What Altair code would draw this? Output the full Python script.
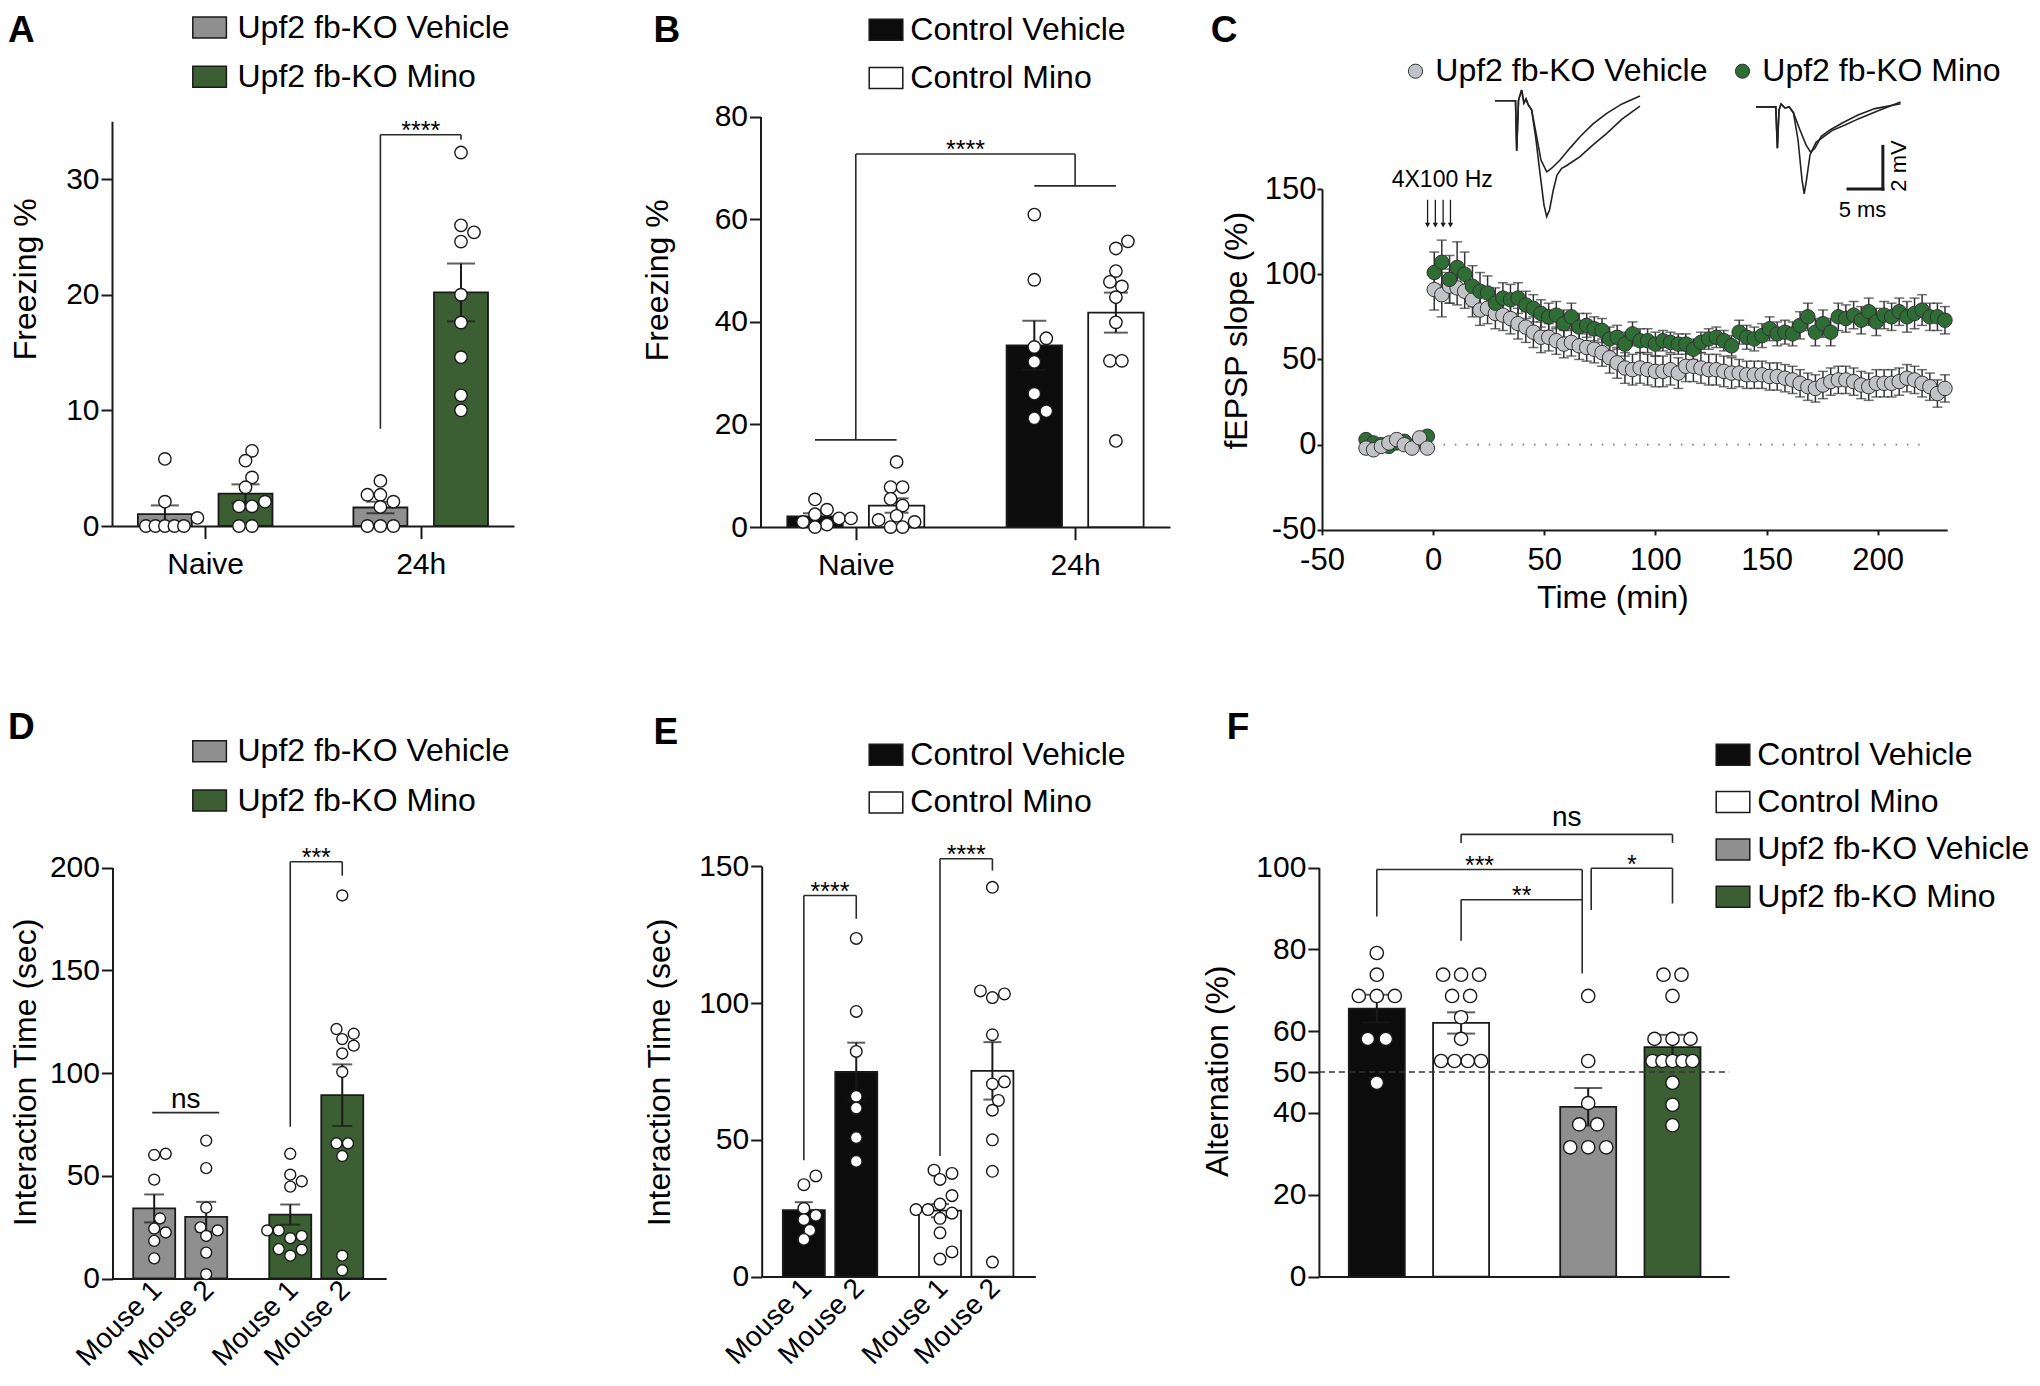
import json
import altair as alt
import pandas as pd

FONT = "Liberation Sans"
INK = "#1a1a1a"
BRK = "#2a2a2a"
GRAY = "#8f8f8f"
GREEN = "#3b5e33"
BLACK = "#0c0c0c"
WHITE = "#ffffff"
C_GRAY = "#c2c3c7"
C_GREEN = "#2e6d34"

# ---------------- data ----------------
# Panel A  (bar order: Naive-Vehicle, Naive-Mino, 24h-Vehicle, 24h-Mino)
A_x = ["Naive", "24h"]
A_series = ["Upf2 fb-KO Vehicle", "Upf2 fb-KO Mino"]
A_mean = [1.03, 2.8, 1.6, 20.2]
A_sem = [0.75, 0.8, 0.5, 2.5]
A_pts = [
    [5.8, 2.1, 0.7, 0, 0, 0, 0, 0],
    [6.5, 5.65, 4.2, 3.35, 2.1, 1.7, 1.7, 0, 0],
    [3.9, 2.7, 2.7, 2.1, 1.65, 0, 0, 0],
    [32.3, 26.0, 25.4, 24.6, 20.0, 17.6, 14.6, 11.3, 10.0],
]
# Panel B
B_x = ["Naive", "24h"]
B_series = ["Control Vehicle", "Control Mino"]
B_mean = [2.1, 4.2, 35.4, 41.8]
B_sem = [0.6, 1.4, 4.8, 3.9]
B_pts = [
    [5.4, 3.4, 2.5, 1.7, 1.7, 1.0, 0.5, 0.0],
    [12.7, 7.8, 7.8, 5.5, 4.2, 2.2, 1.4, 1.0, 0.0, 0.0],
    [60.9, 48.2, 36.8, 35.1, 32.2, 26.0, 22.6, 21.2],
    [55.7, 54.3, 49.9, 47.8, 46.9, 44.8, 39.9, 32.4, 32.4, 16.8],
]
# Panel C  (fEPSP slope time course)
C_series = ["Upf2 fb-KO Vehicle", "Upf2 fb-KO Mino"]
C_base_t = [-30.2, -26.8, -23.3, -19.9, -16.4, -13.0, -9.5, -6.1, -2.6]
C_base_veh = [-2.0, -3.0, -1.0, 1.0, 3.0, 0.0, -2.0, 4.0, -2.0]
C_base_mino = [3.0, 1.0, 0.0, -1.0, 1.0, 2.0, -1.0, 2.0, 5.0]
C_base_sem = [1.5, 1.5, 1.5, 1.5, 1.5, 1.5, 1.5, 1.5, 1.5]
C_post_t = [0.5, 3.9, 7.4, 10.8, 14.2, 17.7, 21.1, 24.5, 28.0, 31.4,
            34.8, 38.2, 41.7, 45.1, 48.5, 52.0, 55.4, 58.8, 62.2, 65.7,
            69.1, 72.5, 76.0, 79.4, 82.8, 86.3, 89.7, 93.1, 96.5, 100.0,
            103.4, 106.8, 110.3, 113.7, 117.1, 120.5, 124.0, 127.4, 130.8, 134.3,
            137.7, 141.1, 144.5, 148.0, 151.4, 154.8, 158.3, 161.7, 165.1, 168.6,
            172.0, 175.4, 178.9, 182.3, 185.7, 189.2, 192.6, 196.0, 199.4, 202.9,
            206.3, 209.7, 213.2, 216.6, 220.0, 223.5, 226.9, 230.3]
C_post_mino = [101, 107, 97, 104, 100, 93, 90, 89, 83, 86,
               85, 86, 82, 80, 77, 75, 76, 71, 75, 69,
               70, 68, 67, 62, 63, 59, 65, 61, 61, 59,
               61, 60, 59, 59, 56, 60, 62, 63, 61, 58,
               66, 63, 62, 64, 68, 65, 66, 65, 70, 75,
               66, 71, 66, 75, 74, 76, 73, 78, 72, 76,
               75, 78, 75, 77, 79, 75, 75, 73]
C_post_veh = [91, 88, 93, 92, 90, 85, 79, 80, 77, 76,
              74, 71, 69, 66, 63, 63, 61, 59, 60, 58,
              57, 56, 54, 51, 48, 45, 44, 45, 44, 43,
              43, 44, 42, 46, 46, 45, 44, 44, 43, 42,
              42, 41, 41, 41, 40, 40, 39, 38, 36, 34,
              33, 35, 37, 38, 38, 37, 35, 34, 36, 36,
              36, 37, 39, 38, 36, 34, 30, 33]
C_sem_mino = [12, 13, 14, 15, 13, 12, 11, 10, 9, 9,
              9, 9, 8, 8, 8, 8, 8, 8, 8, 8,
              7, 7, 7, 7, 7, 7, 7, 7, 7, 7,
              6, 6, 6, 6, 6, 6, 6, 6, 6, 6,
              7, 7, 7, 7, 7, 7, 7, 7, 8, 8,
              8, 8, 8, 8, 8, 8, 8, 8, 8, 8,
              8, 8, 9, 9, 9, 8, 8, 8]
C_sem_veh = [12, 13, 10, 10, 10, 10, 9, 9, 9, 9,
             9, 9, 9, 9, 9, 8, 8, 8, 8, 8,
             8, 8, 8, 9, 9, 9, 9, 9, 9, 9,
             9, 9, 9, 9, 9, 9, 9, 9, 9, 9,
             8, 8, 8, 8, 8, 8, 8, 8, 8, 8,
             8, 8, 8, 8, 8, 8, 8, 8, 8, 8,
             8, 8, 8, 8, 8, 8, 8, 8]
C_arrow_t = [-2.5, 1.0, 4.5, 7.8]
# inset example traces (ms, mV)
T1s_ms = [0, 2.93, 3.1, 3.36, 3.81, 4.14, 4.43, 4.76, 5.24, 5.96, 6.57, 7.39, 8.14, 9.29, 10.71, 12.14, 14.0, 15.96, 18.14, 20.71]
T1s_mv = [0, 0, -2.34, 0.03, 0.5, -0.11, 0.08, -0.2, -0.44, -1.69, -2.78, -3.33, -3.15, -2.78, -2.22, -1.69, -1.09, -0.59, -0.15, 0.22]
T1l_ms = [0, 2.93, 3.1, 3.36, 3.81, 4.14, 4.43, 4.76, 5.24, 5.86, 6.43, 7.0, 7.39, 7.79, 8.33, 8.86, 9.53, 10.14, 11.0, 12.14, 14.0, 15.96, 18.14, 20.71]
T1l_mv = [0, 0, -2.34, 0.03, 0.5, -0.11, 0.08, -0.2, -0.44, -1.84, -3.4, -4.89, -5.43, -5.12, -4.18, -3.48, -3.17, -3.06, -2.87, -2.62, -2.07, -1.53, -0.86, -0.25]
T2s_ms = [37.29, 40.11, 40.34, 40.57, 40.87, 41.43, 42.03, 42.63, 43.57, 44.43, 45.09, 45.71, 46.61, 47.86, 49.67, 51.86, 54.27, 57.94]
T2s_mv = [-0.29, -0.29, -2.23, -0.44, -0.15, -0.34, -0.29, -0.56, -1.37, -2.07, -2.41, -2.22, -1.67, -1.37, -1.03, -0.67, -0.37, -0.14]
T2l_ms = [37.29, 40.11, 40.34, 40.57, 40.87, 41.43, 42.03, 42.63, 43.29, 43.86, 44.17, 44.5, 45.0, 45.86, 48.14, 50.0, 51.97, 55.0, 57.94]
T2l_mv = [-0.29, -0.29, -2.23, -0.44, -0.15, -0.34, -0.29, -0.56, -1.84, -3.71, -4.36, -3.71, -2.54, -1.95, -1.4, -1.14, -0.84, -0.44, -0.06]

# Panel D (bar order: Veh-M1, Veh-M2, Mino-M1, Mino-M2)
D_series = ["Upf2 fb-KO Vehicle", "Upf2 fb-KO Mino"]
D_x = ["Mouse 1", "Mouse 2"]
D_mean = [34.1, 30.0, 31.1, 89.2]
D_sem = [6.8, 7.3, 4.9, 15.0]
D_pts = [
    [60.7, 60.1, 48.1, 29.2, 24.3, 22.4, 18.3, 9.8],
    [67.1, 53.7, 34.5, 24.9, 23.4, 20.7, 12.6, 2.1],
    [60.7, 50.5, 47.3, 44.7, 23.4, 23.4, 20.7, 19.6, 14.3, 14.0, 11.1],
    [186.4, 121.4, 119.1, 116.5, 113.3, 109.5, 100.5, 65.8, 65.8, 59.6, 11.1, 4.0],
]
# Panel E
E_series = ["Control Vehicle", "Control Mino"]
E_x = ["Mouse 1", "Mouse 2"]
E_mean = [24.3, 74.8, 24.1, 75.2]
E_sem = [2.9, 10.7, 2.4, 10.5]
E_pts = [
    [36.8, 33.6, 24.9, 22.4, 20.8, 16.9, 13.6],
    [123.6, 96.9, 82.3, 65.9, 61.6, 50.8, 42.1],
    [38.9, 37.7, 35.5, 29.6, 26.5, 24.5, 24.5, 23.2, 21.3, 16.0, 9.0, 6.4],
    [142.3, 104.4, 103.3, 102.0, 88.4, 71.2, 70.4, 64.4, 60.8, 50.0, 38.5, 5.3],
]
# Panel F
F_series = ["Control Vehicle", "Control Mino", "Upf2 fb-KO Vehicle", "Upf2 fb-KO Mino"]
F_mean = [65.5, 62.0, 41.5, 56.1]
F_sem = [3.4, 2.6, 4.6, 3.0]
F_pts = [
    [79.1, 73.8, 68.6, 68.6, 68.6, 58.1, 58.1, 47.4],
    [73.8, 73.8, 73.8, 68.6, 68.6, 63.4, 58.1, 52.7, 52.7, 52.7, 52.7],
    [68.6, 52.7, 42.4, 37.2, 37.2, 31.6, 31.6, 31.6],
    [73.8, 73.8, 68.6, 58.1, 58.1, 58.1, 52.7, 52.7, 52.7, 52.7, 52.7, 47.4, 42.0, 37.0],
]

# ---------------- figure canvas (pixels, origin = page offset 8,8) ----------------
FIG_W, FIG_H = 2024, 1366
RECT = "M-1.6,-1L1.6,-1L1.6,1L-1.6,1Z"


def swarm(vals, ypx, d, maxw):
    n = len(vals)
    order = sorted(range(n), key=lambda i: vals[i])
    rows = []
    for i in order:
        if rows and abs(vals[rows[-1][0]] - vals[i]) < 1e-9:
            rows[-1].append(i)
        else:
            rows.append([i])
    out = [0.0] * n
    placed = []
    for row in rows:
        m = len(row)
        sp = d if m == 1 else min(d, maxw / (m - 1))
        base = [(j - (m - 1) / 2) * sp for j in range(m)]
        y = vals[row[0]] * ypx
        chosen = 0.0
        for k in [0, 1, -1, 2, -2, 3, -3, 4, -4, 5, -5]:
            c = k * d * 0.5
            if all((c + b - px) ** 2 + (y - py) ** 2 >= (0.9 * d) ** 2
                   for b in base for px, py in placed):
                chosen = c
                break
        for j, i in enumerate(row):
            out[i] = chosen + base[j]
            placed.append((chosen + base[j], y))
    return out


def letter(ch, x, y):
    return alt.Chart(pd.DataFrame({"k": [0]})).mark_text(
        text=ch, align="left", baseline="top", font=FONT, fontSize=37,
        fontWeight="bold", color="black").encode(x=alt.value(x), y=alt.value(y))


def common_axis():
    return dict(domainColor=INK, domainWidth=2, tickColor=INK, tickWidth=2,
                labelFont=FONT, labelColor="black", grid=False,
                labelFlush=False, labelOverlap=False)


def bar_panel(P):
    lay = P["lay"]
    step = lay["step"]
    ax0 = lay["ax"]
    lo = -lay["first"] / step
    hi = (lay["axis_len"] - lay["first"]) / step
    xs = alt.Scale(domain=[lo, hi], range=[ax0, ax0 + lay["axis_len"]], nice=False, zero=False)
    ys = alt.Scale(domain=P["ydom"], range=P["yrange"], nice=False, zero=False)
    ypx = (P["yrange"][0] - P["yrange"][1]) / (P["ydom"][1] - P["ydom"][0])
    ns = P["ns"]
    off_u = lay["off"] / step
    bw_u = lay["bw"] / step
    centers, bars, pts = [], [], []
    for i, (m, se, vals) in enumerate(zip(P["mean"], P["sem"], P["pts"])):
        g, s = divmod(i, ns)
        c = g + (2 * s - (ns - 1)) * off_u
        centers.append(c)
        bars.append({"c": c, "x": c - bw_u / 2, "x2": c + bw_u / 2, "m": m, "zero": 0.0,
                     "lo": m - se, "hi": m + se, "grp": P["fills"][i]})
        offs = swarm(vals, ypx, P["dot_d"], P["dot_w"])
        pts += [{"x": c + o / step, "v": v} for v, o in zip(vals, offs)]

    xoff = P["yrange"][0] - FIG_H
    mode = P["xmode"]
    names = json.dumps(P.get("xlabels", []))
    if mode == "group":
        xax = alt.Axis(orient="bottom", values=list(range(len(P["xlabels"]))),
                       labelExpr=f"{names}[round(datum.value)]", tickSize=12.6,
                       labelFontSize=30, labelPadding=10.8, labelAngle=0,
                       offset=xoff, title=None, **common_axis())
    elif mode == "bar":
        xax = alt.Axis(orient="bottom", values=centers,
                       labelExpr=f"{names}[datum.value - floor(datum.value + 0.5) < 0 ? 0 : 1]",
                       ticks=False, tickSize=0, labelFontSize=28, labelAngle=315,
                       labelAlign="right", labelBaseline="middle", labelPadding=7,
                       labelOffset=3, offset=xoff, title=None, **common_axis())
    else:
        xax = alt.Axis(orient="bottom", labels=False, ticks=False, offset=xoff, title=None,
                       **common_axis())
    yax = alt.Axis(orient="left", values=P["yticks"], format="d", tickSize=11, labelFontSize=30,
                   labelPadding=2, offset=-ax0, title=P["ytitle"], titleFont=FONT,
                   titleFontSize=32, titleFontWeight="normal", titleColor="black",
                   titleAngle=270, titleAlign="center", titleBaseline="bottom",
                   titleX=P["titleX"], titleY=P["titleY"], **common_axis())

    def X(f):
        return alt.X(f"{f}:Q", scale=xs, axis=xax)

    def Y(f):
        return alt.Y(f"{f}:Q", scale=ys, axis=yax)

    legend = alt.Legend(orient="none", legendX=P["lgX"], legendY=P["lgY"], direction="vertical",
                        title=None, symbolType=RECT, symbolSize=441, symbolStrokeColor=INK,
                        symbolStrokeWidth=1.5, symbolOpacity=1, labelFont=FONT, labelFontSize=32,
                        labelColor="black", labelOffset=P["lgOff"], rowPadding=P["lgRow"],
                        padding=0, labelLimit=600)
    bdf = pd.DataFrame(bars)
    layers = [
        alt.Chart(bdf).mark_bar(stroke=INK, strokeWidth=1.8).encode(
            x=X("x"), x2=alt.X2("x2"), y=Y("m"), y2=alt.Y2("zero"),
            fill=alt.Fill("grp:N", scale=alt.Scale(domain=P["legend_names"], range=P["colors"]),
                          legend=legend))
    ]
    if P.get("dash50"):
        ddf = pd.DataFrame([{"x1": lo, "x2": hi, "y": P["dash50"]}])
        layers.append(alt.Chart(ddf).mark_rule(strokeDash=[6, 4], color="#333", strokeWidth=1.6)
                      .encode(x=X("x1"), x2=alt.X2("x2"), y=Y("y")))
    layers += [
        alt.Chart(bdf).mark_rule(color=INK, strokeWidth=2).encode(x=X("c"), y=Y("lo"), y2=alt.Y2("hi")),
        alt.Chart(bdf).mark_tick(orient="horizontal", size=P["cap"], thickness=2, color=INK)
        .encode(x=X("c"), y=Y("hi")),
        alt.Chart(bdf).mark_tick(orient="horizontal", size=P["cap"], thickness=2, color=INK)
        .encode(x=X("c"), y=Y("lo")),
        alt.Chart(pd.DataFrame(pts)).mark_point(shape="circle", filled=True, fill="white", stroke=INK,
                                                strokeWidth=1.4, size=P["dot_size"], opacity=1)
        .encode(x=X("x"), y=Y("v")),
    ]
    segs, stars, nss = P["brackets"](centers, 1.0 / step)
    sdf = pd.DataFrame([{"x1": a, "y1": b, "x2": c, "y2": d} for a, b, c, d in segs])
    layers.append(alt.Chart(sdf).mark_rule(color=BRK, strokeWidth=1.6)
                  .encode(x=X("x1"), x2=alt.X2("x2"), y=Y("y1"), y2=alt.Y2("y2")))
    if stars:
        tdf = pd.DataFrame([{"x": a, "y": b, "t": t} for a, b, t in stars])
        layers.append(alt.Chart(tdf).mark_text(font=FONT, fontSize=25, baseline="alphabetic",
                                               align="center", dy=4.4, color="black")
                      .encode(x=X("x"), y=Y("y"), text="t:N"))
    if nss:
        ndf = pd.DataFrame([{"x": a, "y": b, "t": t} for a, b, t in nss])
        layers.append(alt.Chart(ndf).mark_text(font=FONT, fontSize=28, baseline="alphabetic",
                                               align="center", dy=P["ns_dy"], color="black")
                      .encode(x=X("x"), y=Y("y"), text="t:N"))
    layers.append(letter(P["letter"], P["letX"], P["letY"]))
    return alt.layer(*layers)


def c_panel():
    xs = alt.Scale(domain=[-50, 231.3], range=[1314, 1939.2], nice=False, zero=False)
    ys = alt.Scale(domain=[-50, 150], range=[521.9, 181], nice=False, zero=False)
    xax = alt.Axis(orient="bottom", values=[-50, 0, 50, 100, 150, 200], labelExpr="'' + datum.value",
                   tickSize=5, labelFontSize=31, labelPadding=10.4, offset=521.9 - FIG_H,
                   title="Time (min)", titleFont=FONT, titleFontSize=32, titleFontWeight="normal",
                   titleColor="black", titleX=1604.4, titleY=52.7, titleBaseline="top",
                   titleAlign="center", titleAngle=0, **common_axis())
    yax = alt.Axis(orient="left", values=[-50, 0, 50, 100, 150], labelExpr="'' + datum.value",
                   tickSize=5, labelFontSize=31, labelPadding=1, offset=-1314,
                   title="fEPSP slope (%)", titleFont=FONT, titleFontSize=32,
                   titleFontWeight="normal", titleColor="black", titleAngle=270,
                   titleAlign="center", titleBaseline="bottom", titleX=-68.4, titleY=322.2,
                   **common_axis())

    def X(f):
        return alt.X(f"{f}:Q", scale=xs, axis=xax)

    def Y(f):
        return alt.Y(f"{f}:Q", scale=ys, axis=yax)

    rows = []
    for t, v, e in zip(C_base_t, C_base_veh, C_base_sem):
        rows.append({"t": t, "v": v, "lo": v - e, "hi": v + e, "s": C_series[0], "part": "base"})
    for t, v, e in zip(C_base_t, C_base_mino, C_base_sem):
        rows.append({"t": t, "v": v, "lo": v - e, "hi": v + e, "s": C_series[1], "part": "base"})
    for t, v, e in zip(C_post_t, C_post_veh, C_sem_veh):
        rows.append({"t": t, "v": v, "lo": v - e, "hi": v + e, "s": C_series[0], "part": "post"})
    for t, v, e in zip(C_post_t, C_post_mino, C_sem_mino):
        rows.append({"t": t, "v": v, "lo": v - e, "hi": v + e, "s": C_series[1], "part": "post"})
    df = pd.DataFrame(rows)

    legend = alt.Legend(orient="none", legendX=1391.5, legendY=47.2, direction="horizontal",
                        columns=2, title=None, symbolType="circle", symbolSize=201,
                        symbolStrokeColor="#333", symbolStrokeWidth=1, symbolOpacity=1,
                        labelFont=FONT, labelFontSize=32, labelColor="black", labelOffset=3.8,
                        columnPadding=19, padding=0, labelLimit=600)
    fill = alt.Fill("s:N", scale=alt.Scale(domain=C_series, range=[C_GRAY, C_GREEN]), legend=legend)

    def pts(sub):
        return alt.Chart(sub).mark_point(shape="circle", filled=True, stroke="#333", strokeWidth=1,
                                         size=210, opacity=1).encode(x=X("t"), y=Y("v"), fill=fill)

    zdf = pd.DataFrame([{"x1": 4.7, "x2": 220.4, "y": 0}])
    adf = pd.DataFrame([{"t": t, "y1": 143.7, "y2": 129.5, "yh": 128.8} for t in C_arrow_t])
    main = alt.layer(
        alt.Chart(zdf).mark_rule(strokeDash=[1.5, 9.8], color="#777", strokeWidth=1.6)
        .encode(x=X("x1"), x2=alt.X2("x2"), y=Y("y")),
        alt.Chart(df).mark_rule(color="#333", strokeWidth=1.5).encode(x=X("t"), y=Y("lo"), y2=alt.Y2("hi")),
        alt.Chart(df).mark_tick(orient="horizontal", size=10, thickness=1.5, color="#333")
        .encode(x=X("t"), y=Y("hi")),
        alt.Chart(df).mark_tick(orient="horizontal", size=10, thickness=1.5, color="#333")
        .encode(x=X("t"), y=Y("lo")),
        pts(df[(df.s == C_series[1]) & (df.part == "base")]),
        pts(df[df.s == C_series[0]]),
        pts(df[(df.s == C_series[1]) & (df.part == "post")]),
        alt.Chart(adf).mark_rule(color=INK, strokeWidth=1.3).encode(x=X("t"), y=Y("y1"), y2=alt.Y2("y2")),
        alt.Chart(adf).mark_point(shape="triangle-down", filled=True, color=INK, size=28, opacity=1)
        .encode(x=X("t"), y=Y("yh")),
        alt.Chart(pd.DataFrame([{"t": 4.1, "y": 155.4, "s": "4X100 Hz"}]))
        .mark_text(font=FONT, fontSize=23, align="center", baseline="middle", color="black")
        .encode(x=X("t"), y=Y("y"), text="s:N"),
        letter("C", 1202.7, 4.5),
    )

    ixs = alt.Scale(domain=[0, 60], range=[1487, 1907], nice=False, zero=False)
    iys = alt.Scale(domain=[-6, 1], range=[220.8, 71.35], nice=False, zero=False)

    def IX(f):
        return alt.X(f"{f}:Q", scale=ixs, axis=None)

    def IY(f):
        return alt.Y(f"{f}:Q", scale=iys, axis=None)

    trows = []
    for name, xs_, ys_ in [("v_base", T1s_ms, T1s_mv), ("v_ltp", T1l_ms, T1l_mv),
                           ("m_base", T2s_ms, T2s_mv), ("m_ltp", T2l_ms, T2l_mv)]:
        for i, (a, b) in enumerate(zip(xs_, ys_)):
            trows.append({"ms": a, "mv": b, "tr": name, "i": i})
    bar_df = pd.DataFrame([{"x1": 50.43, "x2": 55.41, "y1": -4.14, "y2": -4.14},
                           {"x1": 55.41, "x2": 55.41, "y1": -4.14, "y2": -2.14}])
    inset = alt.layer(
        alt.Chart(pd.DataFrame(trows)).mark_line(color="#222", strokeWidth=1.6)
        .encode(x=IX("ms"), y=IY("mv"), detail="tr:N", order="i:Q"),
        alt.Chart(bar_df).mark_rule(color=INK, strokeWidth=3, strokeCap="square")
        .encode(x=IX("x1"), x2=alt.X2("x2"), y=IY("y1"), y2=alt.Y2("y2")),
        alt.Chart(pd.DataFrame([{"x": 57.7, "y": -3.06, "s": "2 mV"}]))
        .mark_text(font=FONT, fontSize=22, angle=270, align="center", baseline="middle", color="black")
        .encode(x=IX("x"), y=IY("y"), text="s:N"),
        alt.Chart(pd.DataFrame([{"x": 52.5, "y": -5.1, "s": "5 ms"}]))
        .mark_text(font=FONT, fontSize=22, align="center", baseline="middle", color="black")
        .encode(x=IX("x"), y=IY("y"), text="s:N"),
    )
    return alt.layer(main, inset).resolve_scale(x="independent", y="independent")


# ---------------- bracket definitions ----------------
def br_A(c, u):
    return ([(c[2], 8.4, c[2], 33.84), (c[2], 33.84, c[3], 33.84), (c[3], 33.84, c[3], 33.4)],
            [((c[2] + c[3]) / 2, 33.84, "****")], [])


def br_B(c, u):
    g0, g1 = (c[0] + c[1]) / 2, (c[2] + c[3]) / 2
    return ([(c[0], 17.0, c[1], 17.0), (g0, 17.0, g0, 72.7), (g0, 72.7, g1, 72.7),
             (g1, 72.7, g1, 66.5), (c[2], 66.5, c[3], 66.5)],
            [((g0 + g1) / 2, 72.7, "****")], [])


def br_D(c, u):
    a, b = c[0] - 2 * u, c[1] + 13 * u
    return ([(a, 80.7, b, 80.7), (c[2], 73.9, c[2], 202.8), (c[2], 202.8, c[3], 202.8),
             (c[3], 202.8, c[3], 196.0)],
            [((c[2] + c[3]) / 2, 202.8, "***")], [((a + b) / 2, 80.7, "ns")])


def br_E(c, u):
    return ([(c[0], 42.5, c[0], 139.3), (c[0], 139.3, c[1], 139.3), (c[1], 139.3, c[1], 130.8),
             (c[2], 44.1, c[2], 152.7), (c[2], 152.7, c[3], 152.7), (c[3], 152.7, c[3], 148.4)],
            [((c[0] + c[1]) / 2, 139.3, "****"), ((c[2] + c[3]) / 2, 152.7, "****")], [])


def br_F(c, u):
    kl, kr = c[2] - 6 * u, c[2] + 3 * u
    return ([(c[0], 88.0, c[0], 99.5), (c[0], 99.5, kl, 99.5), (kl, 99.5, kl, 74.1),
             (c[1], 82.1, c[1], 92.1), (c[1], 92.1, kl, 92.1),
             (kr, 89.6, kr, 99.8), (kr, 99.8, c[3], 99.8), (c[3], 99.8, c[3], 91.2),
             (c[1], 106.0, c[1], 108.1), (c[1], 108.1, c[3], 108.1), (c[3], 108.1, c[3], 106.0)],
            [((c[0] + kl) / 2, 99.5, "***"), ((c[1] + kl) / 2, 92.1, "**"), ((kr + c[3]) / 2, 99.8, "*")],
            [((c[1] + c[3]) / 2, 108.1, "ns")])


PA = dict(lay=dict(ax=104, axis_len=402, first=93.2, step=215.5, off=40.3, bw=54), ns=2,
          mean=A_mean, sem=A_sem, pts=A_pts, fills=[A_series[i % 2] for i in range(4)],
          legend_names=A_series, colors=[GRAY, GREEN], ydom=[0, 35], yrange=[518, 113.3],
          yticks=[0, 10, 20, 30], ytitle="Freezing %", titleX=-70, titleY=270.8,
          xmode="group", xlabels=A_x, cap=28, dot_d=13, dot_w=38, dot_size=154,
          lgX=185.6, lgY=3.5, lgOff=11.9, lgRow=17.25, brackets=br_A, ns_dy=-5,
          letter="A", letX=0, letY=4.5)
PB = dict(lay=dict(ax=752.5, axis_len=409.5, first=95.3, step=219.3, off=40.8, bw=55.4), ns=2,
          mean=B_mean, sem=B_sem, pts=B_pts, fills=[B_series[i % 2] for i in range(4)],
          legend_names=B_series, colors=[BLACK, WHITE], ydom=[0, 80], yrange=[519.1, 108.6],
          yticks=[0, 20, 40, 60, 80], ytitle="Freezing %", titleX=-86.1, titleY=271.8,
          xmode="group", xlabels=B_x, cap=24, dot_d=12, dot_w=40, dot_size=154,
          lgX=862, lgY=5.85, lgOff=8.3, lgRow=16.25, brackets=br_B, ns_dy=-5,
          letter="B", letX=645.4, letY=4.5)
PD = dict(lay=dict(ax=104.5, axis_len=273.7, first=67.7, step=136.05, off=26, bw=42), ns=2,
          mean=D_mean, sem=D_sem, pts=D_pts, fills=[D_series[i // 2] for i in range(4)],
          legend_names=D_series, colors=[GRAY, GREEN], ydom=[0, 200], yrange=[1270.5, 859.5],
          yticks=[0, 50, 100, 150, 200], ytitle="Interaction Time (sec)", titleX=-70.5,
          titleY=1063.8, xmode="bar", xlabels=D_x, cap=20, dot_d=11.5, dot_w=30,
          dot_size=120, lgX=185.6, lgY=727.15, lgOff=11.9, lgRow=17.45, brackets=br_D,
          ns_dy=-4.7, letter="D", letX=0, letY=702.3)
PE = dict(lay=dict(ax=753.7, axis_len=273.6, first=68.35, step=136.15, off=26.2, bw=42), ns=2,
          mean=E_mean, sem=E_sem, pts=E_pts, fills=[E_series[i // 2] for i in range(4)],
          legend_names=E_series, colors=[BLACK, WHITE], ydom=[0, 150], yrange=[1268.6, 858.2],
          yticks=[0, 50, 100, 150], ytitle="Interaction Time (sec)", titleX=-85.3,
          titleY=1063.8, xmode="bar", xlabels=E_x, cap=18, dot_d=12, dot_w=32,
          dot_size=135, lgX=862, lgY=730.65, lgOff=8.3, lgRow=15.75, brackets=br_E,
          ns_dy=-5, letter="E", letX=645.4, letY=706.8)
PF = dict(lay=dict(ax=1310.9, axis_len=410.3, first=100.05, step=211.4, off=42.15, bw=56), ns=2,
          mean=F_mean, sem=F_sem, pts=F_pts, fills=F_series,
          legend_names=F_series, colors=[BLACK, WHITE, GRAY, GREEN], ydom=[0, 100],
          yrange=[1268.6, 859.5], yticks=[0, 20, 40, 50, 60, 80, 100], ytitle="Alternation (%)",
          titleX=-84.1, titleY=1062.8, xmode="none", cap=28, dot_d=18, dot_w=40,
          dot_size=177, lgX=1709, lgY=730.65, lgOff=8.2, lgRow=15.4, brackets=br_F,
          ns_dy=-8.7, dash50=50, letter="F", letX=1218.8, letY=702.3)

chart = alt.layer(
    bar_panel(PA), bar_panel(PB), c_panel(), bar_panel(PD), bar_panel(PE), bar_panel(PF)
).resolve_scale(x="independent", y="independent", fill="independent").resolve_axis(
    x="independent", y="independent"
).resolve_legend(fill="independent").properties(
    width=FIG_W, height=FIG_H, padding=0, autosize=alt.AutoSizeParams(type="none")
).configure(font=FONT).configure_view(stroke=None)

chart.save("out.html", embed_options={"renderer": "svg", "actions": False})
